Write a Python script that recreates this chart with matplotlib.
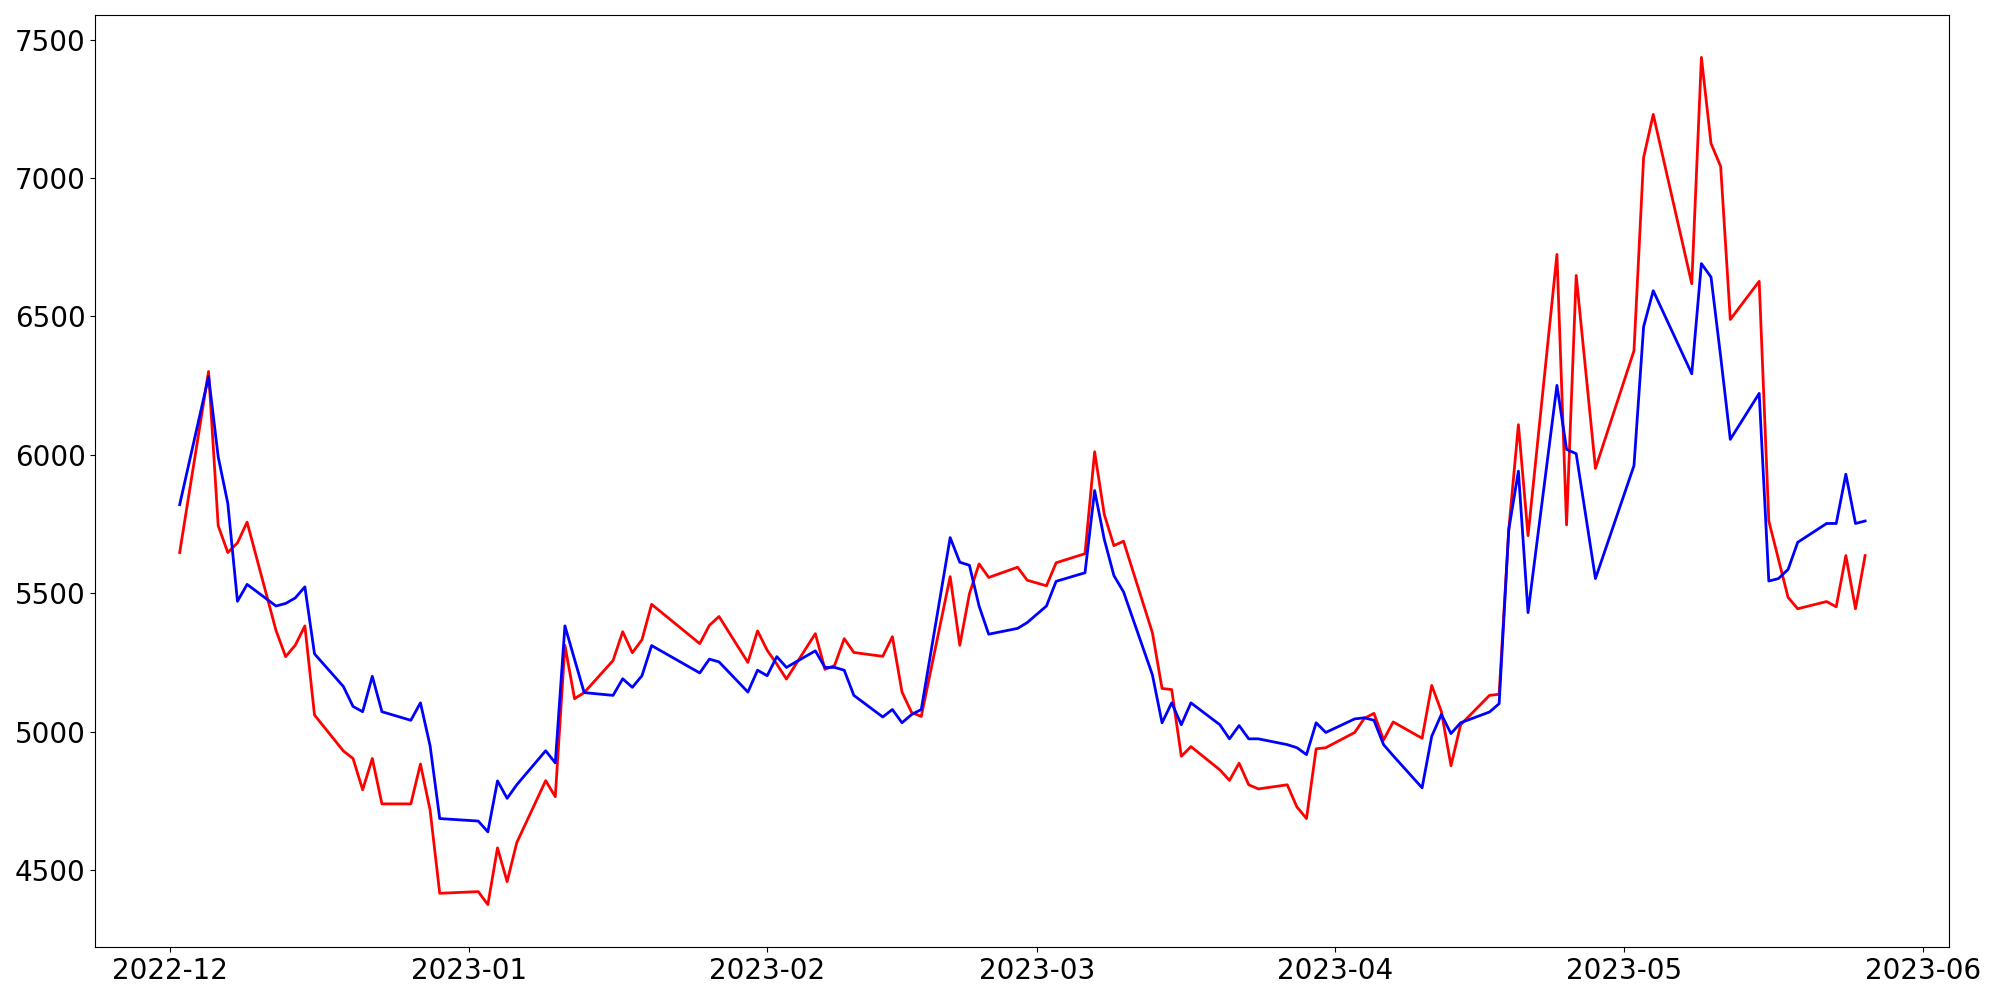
import matplotlib
matplotlib.use("Agg")
import matplotlib.pyplot as plt
import numpy as np
import pandas as pd

# trading calendar: weekdays Dec 2 2022 .. May 26 2023, minus closed days
start_date = "2022-12-02"
end_date = "2023-05-26"
closed_days = ["2022-12-30", "2023-01-23", "2023-01-24", "2023-03-01",
               "2023-04-27", "2023-05-01", "2023-05-05"]

# red series
red_values = [
    # Dec
    5647, 6301, 5744, 5647, 5682, 5757, 5366, 5271, 5312, 5382,
    5060, 4930, 4903, 4790, 4903, 4739, 4739, 4883, 4717, 4416,
    # Jan
    4422, 4375, 4580, 4458, 4599, 4823, 4765, 5312, 5119, 5141,
    5257, 5361, 5285, 5332, 5460, 5318, 5384, 5416, 5250, 5364,
    # Feb
    5294, 5244, 5190, 5354, 5225, 5239, 5336, 5286, 5272, 5343,
    5143, 5069, 5055, 5560, 5312, 5498, 5606, 5557, 5594, 5547,
    # Mar
    5527, 5610, 5643, 6011, 5785, 5672, 5688, 5357, 5156, 5152,
    4911, 4946, 4862, 4824, 4886, 4808, 4793, 4808, 4728, 4686,
    4938, 4942,
    # Apr
    4997, 5048, 5066, 4970, 5035, 4976, 5167, 5073, 4877, 5025,
    5131, 5135, 5730, 6109, 5708, 6724, 5747, 6648, 5951,
    # May
    6376, 7074, 7230, 6618, 7436, 7125, 7042, 6489, 6627, 5761,
    5623, 5485, 5444, 5470, 5451, 5636, 5444, 5636,
]

# blue series
blue_values = [
    # Dec
    5820, 6283, 5993, 5824, 5471, 5532, 5454, 5463, 5483, 5523,
    5281, 5163, 5091, 5072, 5200, 5072, 5041, 5104, 4949, 4686,
    # Jan
    4677, 4638, 4822, 4759, 4808, 4931, 4887, 5382, 5261, 5141,
    5131, 5191, 5160, 5202, 5311, 5212, 5262, 5252, 5143, 5222,
    # Feb
    5202, 5271, 5232, 5292, 5232, 5232, 5222, 5131, 5053, 5080,
    5032, 5062, 5080, 5701, 5612, 5601, 5454, 5352, 5373, 5394,
    # Mar
    5454, 5543, 5574, 5871, 5695, 5564, 5505, 5205, 5032, 5104,
    5025, 5104, 5025, 4974, 5022, 4974, 4974, 4953, 4942, 4917,
    5032, 4997,
    # Apr
    5046, 5050, 5041, 4953, 4913, 4797, 4983, 5062, 4993, 5032,
    5071, 5101, 5730, 5941, 5430, 6251, 6020, 6004, 5553,
    # May
    5961, 6463, 6593, 6293, 6691, 6642, 6355, 6056, 6222, 5544,
    5553, 5586, 5684, 5752, 5752, 5930, 5752, 5761,
]

dates = pd.bdate_range(start_date, end_date)
dates = dates[~dates.isin(pd.to_datetime(closed_days))]
dates = dates.to_pydatetime()

fig = plt.figure(figsize=(20, 10), dpi=100)
ax = fig.add_axes([0.0477, 0.053, 0.927, 0.932])

ax.plot(dates, red_values, color='red', linewidth=2)
ax.plot(dates, blue_values, color='blue', linewidth=2)

ax.tick_params(axis='both', labelsize=20)

fig.savefig("out.png", dpi=100)
